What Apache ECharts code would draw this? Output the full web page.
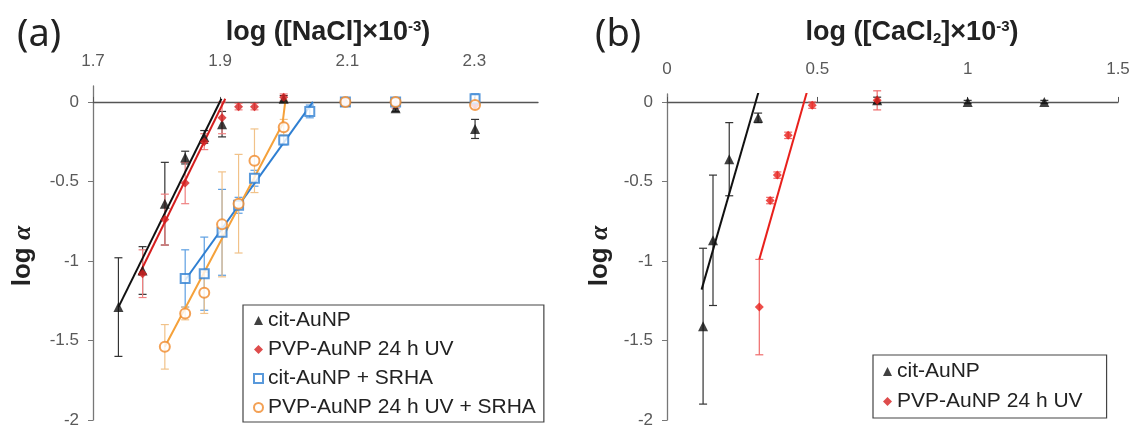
<!DOCTYPE html>
<html>
<head>
<meta charset="utf-8">
<script src="https://cdn.jsdelivr.net/npm/echarts@6/dist/echarts.min.js"></script>
<style>
  html, body { margin: 0; padding: 0; background: #fff; }
  #chart { width: 1133px; height: 430px; }
</style>
</head>
<body>
<div id="chart"></div>
<script>
// tick labels
var naclTicks = [1.7, 1.9, 2.1, 2.3];
var cacl2Ticks = [0, 0.5, 1, 1.5];
var alphaTicks = [-2, -1.5, -1, -0.5, 0];

// (a) log([NaCl] x 10^-3)
var citX = [1.740, 1.778, 1.813, 1.845, 1.875, 1.903, 2.000, 2.097, 2.176, 2.301];
var citY = [-1.29, -1.06, -0.64, -0.35, -0.22, -0.14, 0.02, 0.00, -0.04, -0.17];
var citErr = [0.31, 0.15, 0.26, 0.04, 0.04, 0.08, 0.02, 0.02, 0.02, 0.06];

var pvpX = [1.778, 1.813, 1.845, 1.875, 1.903, 1.929, 1.954, 2.000, 2.097, 2.176, 2.301];
var pvpY = [-1.08, -0.74, -0.51, -0.25, -0.10, -0.03, -0.03, 0.03, 0.00, -0.01, -0.02];
var pvpErr = [0.15, 0.16, 0.13, 0.05, 0.10, 0.02, 0.02, 0.02, 0.02, 0.03, 0.02];

var citHaX = [1.845, 1.875, 1.903, 1.929, 1.954, 2.000, 2.041, 2.097, 2.176, 2.301];
var citHaY = [-1.11, -1.08, -0.82, -0.65, -0.48, -0.24, -0.06, 0.00, 0.00, 0.02];
var citHaErr = [0.18, 0.23, 0.27, 0.05, 0.05, 0.03, 0.04, 0.02, 0.02, 0.03];

var pvpHaX = [1.813, 1.845, 1.875, 1.903, 1.929, 1.954, 2.000, 2.097, 2.176, 2.301];
var pvpHaY = [-1.54, -1.33, -1.20, -0.77, -0.64, -0.37, -0.16, 0.00, 0.00, -0.02];
var pvpHaErr = [0.14, 0.04, 0.13, 0.33, 0.31, 0.20, 0.05, 0.02, 0.02, 0.02];

// fitted lines (a)
var citFitX = [1.740, 1.902];     var citFitY = [-1.29, 0.02];
var pvpFitX = [1.772, 1.908];     var pvpFitY = [-1.09, 0.02];
var citHaFitX = [1.845, 2.046];   var citHaFitY = [-1.12, 0.00];
var pvpHaFitX = [1.813, 1.998, 2.003]; var pvpHaFitY = [-1.54, -0.14, 0.02];

// (b) log([CaCl2] x 10^-3)
var bCitX = [0.120, 0.153, 0.207, 0.303, 0.699, 1.000, 1.255];
var bCitY = [-1.41, -0.87, -0.36, -0.10, 0.01, 0.00, 0.00];
var bCitErr = [0.49, 0.41, 0.23, 0.03, 0.02, 0.01, 0.01];

var bPvpX = [0.307, 0.343, 0.367, 0.403, 0.483, 0.699];
var bPvpY = [-1.29, -0.62, -0.46, -0.21, -0.02, 0.01];
var bPvpErr = [0.30, 0.02, 0.02, 0.02, 0.02, 0.06];

var bCitFitX = [0.115, 0.304];  var bCitFitY = [-1.18, 0.06];
var bPvpFitX = [0.307, 0.465];  var bPvpFitY = [-0.99, 0.06];

var names = ['cit-AuNP', 'PVP-AuNP 24 h UV', 'cit-AuNP + SRHA', 'PVP-AuNP 24 h UV + SRHA'];

function pts(xs, ys) { return xs.map(function (x, i) { return [x, ys[i]]; }); }
function errPts(xs, ys, es) { return xs.map(function (x, i) { return [x, ys[i], es[i]]; }); }

var FONT = 'Liberation Sans';

function errSeries(name, grid, xs, ys, es, color) {
  return {
    name: name + ' err', type: 'custom', xAxisIndex: grid * 2 + 1, yAxisIndex: grid,
    silent: true, z: 1, encode: { x: 0, y: 1 },
    data: errPts(xs, ys, es),
    renderItem: function (params, api) {
      var x = api.value(0), y = api.value(1), e = api.value(2);
      var hi = api.coord([x, y + e]);
      var lo = api.coord([x, y - e]);
      var w = 4;
      var st = { stroke: color, lineWidth: 1.2, fill: null };
      return { type: 'group', children: [
        { type: 'line', shape: { x1: hi[0], y1: hi[1], x2: lo[0], y2: lo[1] }, style: st },
        { type: 'line', shape: { x1: hi[0] - w, y1: hi[1], x2: hi[0] + w, y2: hi[1] }, style: st },
        { type: 'line', shape: { x1: lo[0] - w, y1: lo[1], x2: lo[0] + w, y2: lo[1] }, style: st }
      ]};
    }
  };
}

function fitSeries(name, grid, xs, ys, color) {
  return {
    name: name + ' fit', type: 'line', xAxisIndex: grid * 2 + 1, yAxisIndex: grid,
    data: pts(xs, ys), symbol: 'none', silent: true, z: 2,
    lineStyle: { color: color, width: 2 }
  };
}

function dotSeries(name, grid, xs, ys, symbol, size, fill, border) {
  return {
    name: name, type: 'scatter', xAxisIndex: grid * 2 + 1, yAxisIndex: grid,
    data: pts(xs, ys), symbol: symbol, symbolSize: size, z: 3,
    itemStyle: { color: fill, borderColor: border, borderWidth: fill === '#fff' ? 2 : 0 }
  };
}

var BLACK = '#111111', RED = '#d61f1f', BLUE = '#2f7fd2', ORANGE = '#f08a2a', ORANGE_LINE = '#f5a13a';

function labelAxis(grid, min, max, ticks) {
  return {
    type: 'value', gridIndex: grid, position: 'top', min: min, max: max,
    axisLine: { show: false, onZero: false }, axisTick: { show: false }, splitLine: { show: false },
    axisLabel: { customValues: ticks, margin: 16, color: '#595959', fontSize: 17, fontFamily: FONT }
  };
}
function zeroAxis(grid, min, max, ticks) {
  return {
    type: 'value', gridIndex: grid, position: 'bottom', min: min, max: max,
    axisLine: { show: true, onZero: true, lineStyle: { color: '#555', width: 1.3 } },
    axisTick: { show: true, inside: true, length: 5, customValues: ticks, lineStyle: { color: '#555' } },
    axisLabel: { show: false }, splitLine: { show: false }
  };
}
function yAxisFor(grid, max) {
  return {
    type: 'value', gridIndex: grid, min: -2, max: max,
    axisLine: { show: true, onZero: false, lineStyle: { color: '#777', width: 1.3 } },
    axisTick: { show: true, length: 5, customValues: alphaTicks, lineStyle: { color: '#777' } },
    axisLabel: { customValues: alphaTicks, margin: 14, color: '#595959', fontSize: 17, fontFamily: FONT },
    splitLine: { show: false }
  };
}

var chart = echarts.init(document.getElementById('chart'), null, { renderer: 'canvas' });

var legendText = { fontSize: 21, fontFamily: FONT, color: '#222' };
var titleRich = {
  b: { font: 'bold 27px "Liberation Sans"', fill: '#222' },
  s: { font: 'bold 15px "Liberation Sans"', fill: '#222', padding: [0, 0, 12, 0] },
  u: { font: 'bold 15px "Liberation Sans"', fill: '#222', padding: [12, 0, 0, 0] }
};
var alphaRich = {
  b: { font: 'bold 26px "Liberation Sans"', fill: '#222' },
  a: { font: 'italic bold 26px "Liberation Serif"', fill: '#222' }
};

chart.setOption({
  animation: false,
  backgroundColor: '#fff',
  grid: [
    { left: 93, top: 86, width: 445, height: 334 },
    { left: 667, top: 94, width: 451, height: 326 }
  ],
  xAxis: [
    labelAxis(0, 1.7, 2.4, naclTicks),
    zeroAxis(0, 1.7, 2.4, naclTicks),
    labelAxis(1, 0, 1.5, cacl2Ticks),
    zeroAxis(1, 0, 1.5, cacl2Ticks)
  ],
  yAxis: [yAxisFor(0, 0.1), yAxisFor(1, 0.05)],
  legend: [
    {
      data: names, orient: 'vertical', left: 243, top: 305, selectedMode: false,
      padding: [5, 8, 4, 10], itemGap: 8, itemWidth: 9, itemHeight: 9,
      borderColor: '#444', borderWidth: 1.2, backgroundColor: '#fff',
      textStyle: legendText
    },
    {
      data: names.slice(0, 2), orient: 'vertical', left: 873, top: 355, selectedMode: false,
      padding: [6, 24, 6, 10], itemGap: 9, itemWidth: 9, itemHeight: 9,
      borderColor: '#444', borderWidth: 1.2, backgroundColor: '#fff',
      textStyle: legendText
    }
  ],
  graphic: [
    { type: 'text', left: 17, top: 16, style: { text: '(a)', font: '38px "Noto Sans"', fill: '#222' } },
    { type: 'text', left: 595, top: 16, style: { text: '(b)', font: '38px "Noto Sans"', fill: '#222' } },
    { type: 'text', x: 328, y: 33, style: {
      text: '{b|log ([NaCl]×10}{s|-3}{b|)}', align: 'center', verticalAlign: 'middle', rich: titleRich } },
    { type: 'text', x: 912, y: 33, style: {
      text: '{b|log ([CaCl}{u|2}{b|]×10}{s|-3}{b|)}', align: 'center', verticalAlign: 'middle', rich: titleRich } },
    { type: 'text', x: 23, y: 256, rotation: Math.PI / 2, style: {
      text: '{b|log }{a|α}', align: 'center', verticalAlign: 'middle', rich: alphaRich } },
    { type: 'text', x: 600, y: 256, rotation: Math.PI / 2, style: {
      text: '{b|log }{a|α}', align: 'center', verticalAlign: 'middle', rich: alphaRich } }
  ],
  series: [
    // panel (a)
    errSeries(names[0], 0, citX, citY, citErr, '#333'),
    errSeries(names[1], 0, pvpX, pvpY, pvpErr, '#ef8080'),
    errSeries(names[2], 0, citHaX, citHaY, citHaErr, '#5d9fe2'),
    errSeries(names[3], 0, pvpHaX, pvpHaY, pvpHaErr, '#f1c289'),
    fitSeries(names[0], 0, citFitX, citFitY, BLACK),
    fitSeries(names[1], 0, pvpFitX, pvpFitY, RED),
    fitSeries(names[2], 0, citHaFitX, citHaFitY, BLUE),
    fitSeries(names[3], 0, pvpHaFitX, pvpHaFitY, ORANGE_LINE),
    dotSeries(names[0], 0, citX, citY, 'triangle', 10, BLACK, BLACK),
    dotSeries(names[1], 0, pvpX, pvpY, 'diamond', 9, RED, RED),
    dotSeries(names[2], 0, citHaX, citHaY, 'rect', 9, '#fff', BLUE),
    dotSeries(names[3], 0, pvpHaX, pvpHaY, 'circle', 10, '#fff', ORANGE),
    // panel (b)
    errSeries('b ' + names[0], 1, bCitX, bCitY, bCitErr, '#333'),
    errSeries('b ' + names[1], 1, bPvpX, bPvpY, bPvpErr, '#ef6a6a'),
    fitSeries('b ' + names[0], 1, bCitFitX, bCitFitY, BLACK),
    fitSeries('b ' + names[1], 1, bPvpFitX, bPvpFitY, '#e8201c'),
    dotSeries(names[0], 1, bCitX, bCitY, 'triangle', 10, BLACK, BLACK),
    dotSeries(names[1], 1, bPvpX, bPvpY, 'diamond', 9, '#e8201c', '#e8201c')
  ]
});
</script>
</body>
</html>
